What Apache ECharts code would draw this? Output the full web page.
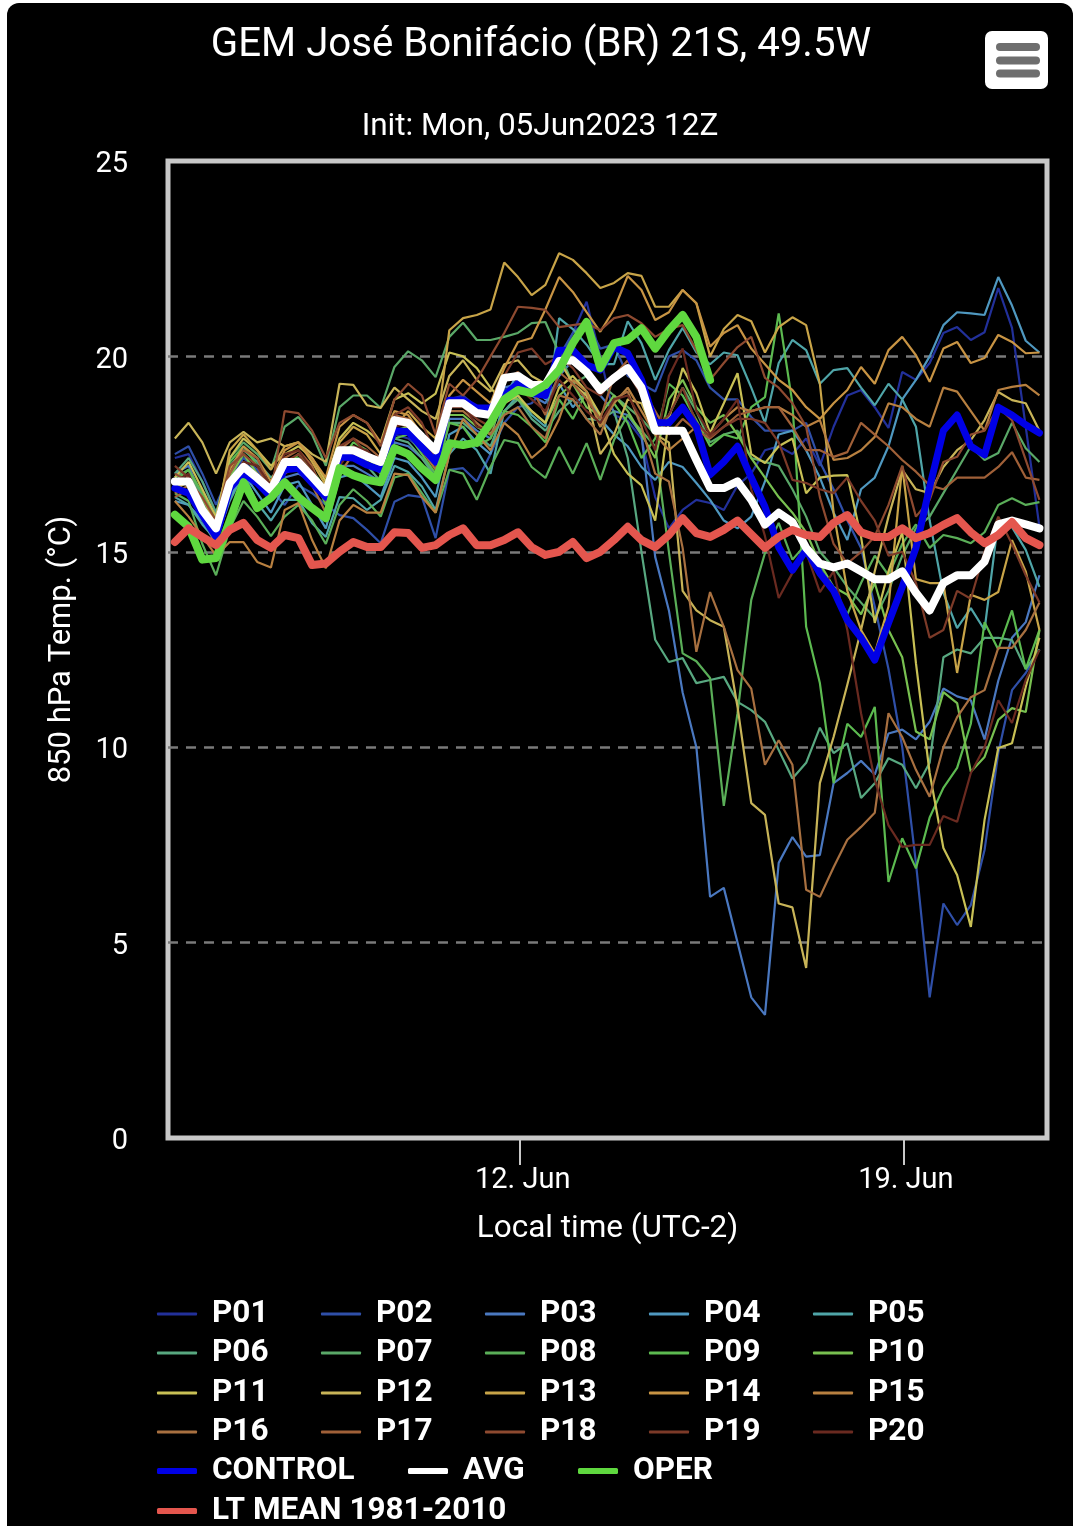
<!DOCTYPE html>
<html>
<head>
<meta charset="utf-8">
<title>GEM José Bonifácio</title>
<script src="https://cdn.jsdelivr.net/npm/echarts@6/dist/echarts.min.js"></script>
<style>
  html, body { margin: 0; padding: 0; background: #fff; }
  #panel { position: absolute; left: 7px; top: 3px; width: 1066px; height: 1523px; background: #000; border-radius: 12px 12px 0 0; }
  #chart { position: absolute; left: 0; top: 0; width: 1079px; height: 1526px; }
</style>
</head>
<body>
<div id="panel"></div>
<div id="chart"></div>
<script>
// forecast hours run +6h, +12h ... from init, one value per step
const stepHours = 6
const xTickHours = [157, 324.5]
const xTickLabels = ['12. Jun', '19. Jun']

const P01 = [17.4,17.5,16.8,16.0,16.9,17.4,17.1,16.6,17.2,17.4,17.0,16.5,17.4,17.5,17.3,17.0,
  18.0,17.9,17.6,17.2,18.9,19.0,18.7,18.4,19.1,19.4,19.2,19.0,19.9,20.6,21.4,20.0,
  18.5,18.35,17.9,16.4,15.6,16.07,16.33,16.25,16.07,16.7,17.0,17.6,17.7,17.5,17.9,17.2,
  18.2,19.0,19.14,18.7,18.17,19.6,19.4,19.83,20.6,20.75,20.42,20.62,21.75,20.73,18.2,15.63]
const P02 = [17.5,17.7,17.0,16.2,17.0,17.4,17.1,16.6,16.2,16.7,16.5,16.2,15.94,15.86,15.56,15.22,
  16.28,16.45,16.4,15.35,17.1,17.14,16.8,17.5,18.3,18.7,18.8,19.2,20.0,20.6,20.9,20.2,
  20.3,19.5,19.3,19.1,20.0,20.16,19.9,19.2,18.9,18.9,18.45,18.1,18.1,18.1,18.3,17.3,
  16.6,15.8,15.1,13.6,12.0,10.0,7.04,3.6,6.0,5.45,5.96,7.37,9.85,11.46,11.9,12.5]
const P03 = [17.0,17.2,16.4,15.9,16.8,17.3,17.0,16.4,16.9,17.0,16.8,16.4,17.2,17.2,17.0,16.8,
  17.8,17.7,17.4,17.0,18.4,18.4,18.1,17.9,19.2,19.3,19.0,18.8,19.5,19.9,19.6,19.0,
  18.6,18.5,18.0,14.87,13.5,11.4,10.0,6.17,6.4,5.0,3.6,3.15,7.04,7.7,7.2,7.24,
  9.08,9.34,9.65,9.3,10.35,10.45,10.2,10.65,11.5,11.3,11.2,10.2,11.7,12.8,13.2,14.4]
const P04 = [16.3,16.2,15.8,15.2,16.4,17.0,16.5,16.0,16.7,16.8,16.2,15.6,16.9,17.0,16.7,16.4,
  17.4,17.3,16.9,16.4,18.0,18.2,17.8,17.5,18.9,19.6,19.3,18.9,19.3,18.7,19.1,18.4,
  18.0,17.7,17.17,16.84,17.3,17.17,16.76,16.33,15.8,15.6,15.9,16.8,18.0,18.1,17.6,16.9,
  16.0,15.3,16.6,16.9,17.7,18.9,19.4,20.0,20.8,21.13,21.1,21.06,22.03,21.3,20.4,20.1]
const P05 = [16.4,16.2,15.7,15.3,16.3,17.0,16.25,15.8,16.33,16.33,15.73,15.38,16.4,16.37,16.07,16.33,
  17.2,17.04,16.67,16.07,17.5,17.9,17.6,17.0,18.6,19.0,18.5,18.2,20.98,20.7,20.3,19.8,
  19.8,20.9,20.34,19.4,20.16,20.73,20.1,19.8,20.1,20.03,19.2,18.3,19.83,20.42,20.16,19.3,
  19.65,19.7,19.2,18.75,19.3,18.9,18.2,15.8,13.95,13.05,13.56,13.0,15.8,15.63,15.05,14.1]
const P06 = [17.0,17.4,16.8,16.0,17.2,17.6,17.3,16.9,17.2,17.3,17.0,16.6,17.5,17.6,17.2,16.8,
  17.9,17.8,17.4,16.9,18.3,18.3,18.0,17.7,18.6,18.9,18.4,18.1,18.6,18.9,18.4,18.37,
  18.6,17.4,15.0,12.75,12.18,12.28,11.64,11.72,11.8,11.16,10.95,10.65,9.93,9.2,9.6,10.5,
  9.85,10.1,8.7,9.08,9.72,9.55,8.95,9.6,12.3,12.5,12.4,12.8,12.8,12.74,12.0,12.5]
const P07 = [16.9,17.1,16.3,15.7,17.4,17.8,17.5,17.1,18.2,18.45,18.0,17.2,18.7,19.0,19.0,18.68,
  19.73,20.13,19.9,19.47,20.5,20.86,20.42,20.42,20.5,20.6,20.85,20.88,20.08,19.3,19.5,19.3,
  19.0,18.7,18.4,18.0,18.5,19.2,18.6,17.8,18.0,18.1,17.4,17.3,17.2,16.6,15.9,15.0,
  14.6,14.1,13.7,13.3,14.0,14.9,15.6,15.9,16.5,17.1,17.7,17.35,17.53,18.3,17.65,17.3]
const P08 = [16.5,16.3,15.2,14.4,15.6,16.3,15.9,15.4,15.9,16.2,15.8,15.2,16.2,16.6,16.3,15.9,
  16.9,17.0,16.5,16.0,17.1,17.0,16.33,17.17,17.86,17.78,17.17,16.89,17.68,17.0,17.78,16.84,
  17.86,18.5,18.1,17.7,15.0,12.4,12.2,11.77,8.5,10.87,13.77,14.97,15.74,14.8,15.2,14.6,
  14.0,13.4,14.2,14.9,14.4,15.2,15.7,15.1,15.43,15.35,15.22,15.5,16.2,16.37,16.2,16.27]
const P09 = [16.8,17.1,16.5,15.8,17.3,17.7,17.2,16.7,17.3,17.4,17.0,16.2,17.3,17.8,17.6,17.0,
  17.9,18.0,17.5,17.0,18.3,18.2,17.7,17.9,18.6,18.5,18.2,17.8,18.9,18.4,19.1,18.2,
  18.8,18.3,17.4,17.9,19.3,19.0,18.37,17.7,18.0,17.9,18.7,18.96,21.1,18.8,13.08,11.64,
  9.08,10.6,10.26,11.03,6.55,7.67,6.9,8.2,8.96,9.47,10.6,13.2,12.5,13.5,12.0,13.0]
const P10 = [16.6,16.9,16.1,15.4,16.9,17.5,17.0,16.5,17.1,17.5,17.1,16.6,17.6,17.7,17.4,17.1,
  18.1,18.2,17.8,17.3,18.5,18.5,18.2,18.0,19.0,18.9,18.6,18.3,19.0,19.3,18.7,18.5,
  19.0,18.6,18.0,17.4,18.9,19.4,18.7,18.3,18.5,18.0,17.4,16.9,16.4,16.0,15.5,14.7,
  14.1,13.9,13.4,14.2,13.0,12.3,10.4,10.2,11.41,11.13,9.37,9.75,10.7,11.0,10.9,13.0]
const P11 = [16.9,17.3,16.6,15.9,17.4,17.9,17.6,17.2,17.5,17.7,17.4,16.8,17.9,18.3,18.1,17.8,
  18.9,19.06,18.8,19.05,20.1,20.0,19.7,19.2,18.8,19.0,18.6,18.3,19.2,19.5,19.1,18.5,
  17.5,17.0,16.7,15.8,18.4,19.7,19.06,18.04,18.8,19.57,17.5,17.27,17.7,17.9,16.5,16.9,
  16.95,16.96,15.38,13.18,14.5,15.5,12.15,9.34,7.42,6.73,5.4,8.14,9.98,10.1,11.54,12.8]
const P12 = [17.9,18.3,17.8,17.0,17.8,18.07,17.8,17.9,17.7,17.8,17.5,17.3,19.3,19.27,18.75,18.68,
  19.2,18.9,18.6,18.4,19.5,19.9,19.4,19.1,19.8,19.9,19.5,19.3,19.9,19.3,19.0,17.5,
  18.0,18.9,18.8,18.0,17.8,14.0,13.5,13.25,13.08,11.03,8.57,8.27,6.0,5.9,4.35,9.08,
  10.26,11.6,13.0,14.5,15.9,17.1,16.6,16.5,17.17,17.6,17.86,18.37,19.09,18.88,18.8,18.1]
const P13 = [16.6,16.8,16.4,15.7,17.6,18.0,17.6,17.1,17.7,17.8,17.3,16.7,17.8,18.2,18.0,17.5,
  18.2,18.6,18.2,17.9,20.67,20.98,21.06,21.2,22.4,22.03,21.57,21.83,22.64,22.47,22.13,21.75,
  21.88,22.13,22.06,21.27,21.27,21.7,21.36,20.0,20.7,21.06,20.9,20.1,20.75,21.0,20.8,19.3,
  16.0,14.0,13.0,12.4,13.6,17.2,14.3,14.2,14.2,11.9,13.9,13.77,13.97,15.3,14.5,13.0]
const P14 = [16.7,16.9,16.2,15.6,17.1,17.7,17.4,16.8,17.6,17.8,17.4,16.9,18.2,18.5,18.3,17.8,
  18.6,18.5,18.0,17.6,19.0,19.4,19.1,18.8,19.7,20.37,20.47,21.2,22.03,21.65,21.13,20.63,
  21.2,22.06,21.7,20.93,21.13,21.7,21.36,20.25,20.6,20.8,20.2,19.8,19.4,19.14,18.7,18.4,
  18.8,19.14,19.73,19.3,20.16,20.5,20.03,19.35,20.2,20.37,19.83,19.96,20.55,20.37,20.08,20.1]
const P15 = [16.3,15.9,15.4,14.9,15.25,15.25,14.74,14.6,16.07,16.25,15.3,14.58,15.8,16.2,16.0,16.0,
  17.0,16.96,16.4,16.0,17.5,18.4,18.0,17.6,18.3,18.0,17.4,17.7,18.4,19.4,19.1,18.2,
  18.8,19.2,18.6,18.0,17.6,17.9,18.2,18.0,18.4,18.7,18.6,18.7,18.7,18.5,18.2,18.37,
  17.35,17.4,17.6,17.94,18.8,18.7,18.4,18.2,19.2,19.1,18.6,18.1,19.14,19.22,19.27,19.0]
const P16 = [16.5,16.7,15.9,15.2,16.7,17.3,16.9,16.3,17.0,17.2,16.7,16.0,17.0,17.5,17.4,17.2,
  18.3,18.2,17.6,17.1,18.6,18.6,18.3,18.0,18.5,18.7,18.2,17.9,19.0,18.9,18.4,18.0,
  18.9,19.1,18.2,17.0,16.8,15.1,12.44,13.97,13.08,11.97,11.5,9.55,10.18,9.55,6.35,6.17,
  6.93,7.63,7.96,8.32,10.87,10.26,9.42,8.73,10.0,10.77,11.28,11.46,12.54,12.54,13.0,13.7]
const P17 = [16.4,16.6,16.0,15.5,17.0,17.6,17.4,16.6,17.4,17.6,17.2,16.3,17.6,17.9,17.7,17.4,
  18.5,18.4,17.9,17.4,18.9,18.8,18.5,18.6,19.4,19.6,19.2,18.5,19.6,19.3,18.9,18.4,
  19.5,19.9,19.2,18.6,18.0,18.4,18.1,17.9,18.2,18.5,18.6,18.7,18.7,18.2,17.6,17.6,
  17.43,17.55,18.3,18.0,17.7,17.35,17.05,16.7,16.6,16.9,16.9,16.9,17.17,17.55,16.9,16.84]
const P18 = [17.0,16.8,16.4,15.8,17.2,17.5,17.2,16.5,18.6,18.55,18.1,17.4,18.3,18.5,18.3,17.7,
  18.9,19.3,19.0,18.0,19.3,19.0,19.4,20.0,20.6,21.27,21.24,21.19,20.75,20.8,20.85,20.67,
  20.98,21.06,20.85,20.5,20.7,20.8,20.16,19.4,19.83,20.24,20.5,19.45,19.2,18.8,18.2,16.4,
  15.2,14.7,15.0,15.4,16.2,17.2,15.9,16.33,17.3,17.43,18.0,18.1,18.7,18.37,17.35,16.33]
const P19 = [17.2,16.9,16.2,15.5,16.8,17.2,17.0,16.5,17.3,17.5,17.0,16.4,17.7,17.9,17.5,17.4,
  18.5,18.7,18.3,17.5,18.7,18.7,18.4,18.2,19.5,20.1,20.2,19.8,20.0,19.7,19.2,19.0,
  19.4,19.6,19.0,18.2,18.5,19.2,18.3,17.94,18.2,18.4,18.4,18.3,17.8,16.84,16.76,16.6,
  16.5,16.9,16.3,15.8,14.9,15.0,14.2,12.8,13.0,14.0,13.8,15.0,15.9,15.2,14.4,13.7]
const P20 = [16.8,17.0,16.1,15.3,16.6,17.3,17.2,16.7,17.5,17.6,17.1,16.5,17.2,17.7,17.6,17.2,
  18.2,18.3,17.7,17.3,18.7,18.8,18.2,18.1,19.0,19.2,18.9,18.6,19.4,19.0,18.6,18.3,
  18.9,19.0,18.4,17.6,19.5,20.2,18.6,18.0,18.4,18.9,16.6,15.4,13.82,14.46,15.0,13.97,
  14.5,13.0,10.87,9.16,8.0,7.45,7.5,7.5,8.24,8.09,9.34,10.0,11.2,10.62,11.72,12.49]
const CONTROL = [16.63,16.5,15.94,15.38,16.63,17.0,16.76,16.4,17.1,17.14,16.76,16.4,17.43,17.4,17.22,17.1,
  18.1,18.07,17.68,17.3,18.88,18.88,18.68,18.68,19.0,19.3,19.06,19.0,20.16,20.16,19.78,19.65,
  20.24,20.08,19.4,18.3,18.3,18.7,18.2,16.97,17.3,17.7,16.9,16.15,15.12,14.53,15.05,14.45,
  14.0,13.25,12.8,12.23,13.18,14.1,15.1,16.66,18.1,18.5,17.7,17.48,18.7,18.5,18.25,18.04]
const AVG = [16.8,16.8,16.07,15.6,16.76,17.17,16.89,16.58,17.3,17.3,16.92,16.53,17.6,17.6,17.44,17.3,
  18.37,18.3,17.94,17.6,18.8,18.8,18.55,18.5,19.45,19.5,19.27,19.27,19.88,19.9,19.6,19.14,
  19.45,19.7,19.2,18.1,18.1,18.1,17.35,16.63,16.63,16.8,16.33,15.7,16.0,15.76,15.1,14.7,
  14.6,14.7,14.5,14.3,14.3,14.5,13.95,13.5,14.2,14.4,14.4,14.75,15.7,15.8,15.7,15.6]
const OPER = [15.95,15.64,14.8,14.84,15.8,16.78,16.12,16.38,16.78,16.4,16.12,15.86,17.14,16.96,16.84,16.78,
  17.65,17.5,17.14,16.84,17.78,17.73,17.8,18.3,18.9,19.14,19.06,19.27,19.65,20.34,20.88,19.7,
  20.34,20.42,20.72,20.2,20.67,21.06,20.5,19.4]
const LT_MEAN = [15.25,15.6,15.38,15.17,15.56,15.74,15.3,15.1,15.43,15.35,14.66,14.7,15.0,15.25,15.12,15.12,
  15.5,15.48,15.1,15.17,15.43,15.6,15.17,15.17,15.3,15.5,15.12,14.92,15.0,15.25,14.84,15.0,
  15.3,15.64,15.3,15.12,15.43,15.86,15.48,15.38,15.56,15.8,15.45,15.1,15.38,15.56,15.43,15.38,
  15.74,15.94,15.5,15.38,15.38,15.6,15.35,15.48,15.69,15.86,15.5,15.22,15.43,15.76,15.35,15.17]

const members = [P01, P02, P03, P04, P05, P06, P07, P08, P09, P10, P11, P12, P13, P14, P15, P16, P17, P18, P19, P20]
const memberNames = ['P01','P02','P03','P04','P05','P06','P07','P08','P09','P10','P11','P12','P13','P14','P15','P16','P17','P18','P19','P20']
const memberColors = ['#22309a','#2f4fa8','#4a78c0','#4f98c0','#4fa5a8','#58a880','#5aa868','#5aae58','#5cba50','#78c050',
  '#c8c055','#c8b458','#c8a448','#c89444','#b88040','#a87040','#a06038','#8e4a30','#7c3a28','#6a2a20']

const toPoints = (values) => values.map((v, i) => [(i + 1) * stepHours, v])
const textStyle = { color: '#fff', fontFamily: 'Roboto' }

const series = members.map((values, i) => ({
  name: memberNames[i],
  type: 'line',
  color: memberColors[i],
  data: toPoints(values),
  showSymbol: false,
  silent: true,
  lineStyle: { width: 2.2, color: memberColors[i] },
  z: 2
}))
const thick = (name, values, color, width, z) => ({
  name, type: 'line', color, data: toPoints(values), showSymbol: false, silent: true,
  lineStyle: { width, color, cap: 'round', join: 'round' }, z
})
series.push(thick('CONTROL', CONTROL, '#0000e6', 7, 3))
series.push(thick('AVG', AVG, '#ffffff', 8, 4))
series.push(thick('OPER', OPER, '#5fd83f', 8, 5))
series.push(thick('LT MEAN 1981-2010', LT_MEAN, '#e4564e', 8, 6))

// one legend per entry so the columns line up with the reference
const legendItem = (name, left, top, itemHeight) => ({
  data: [name], left, top, orient: 'horizontal', padding: 0, selectedMode: false,
  icon: 'roundRect', itemWidth: 40, itemHeight, itemGap: 0,
  textStyle: { color: '#fff', fontFamily: 'Roboto', fontWeight: 'bold', fontSize: 31.5, padding: [0, 0, 0, 10], lineHeight: 36 }
})
const rowTops = [1296, 1335, 1375, 1414]
const legends = memberNames.map((name, i) =>
  legendItem(name, 157 + (i % 5) * 164, rowTops[Math.floor(i / 5)], 3))
legends.push(legendItem('CONTROL', 157, 1453, 6))
legends.push(legendItem('AVG', 408, 1453, 6))
legends.push(legendItem('OPER', 578, 1453, 6))
legends.push(legendItem('LT MEAN 1981-2010', 157, 1493, 6))

const chart = echarts.init(document.getElementById('chart'), null, { renderer: 'canvas' })
chart.setOption({
  backgroundColor: 'transparent',
  animation: false,
  title: [
    { text: 'GEM José Bonifácio (BR) 21S, 49.5W', left: 536, top: 21, textAlign: 'center',
      textStyle: { ...textStyle, fontWeight: 'normal', fontSize: 40.2 } },
    { text: 'Init: Mon, 05Jun2023 12Z', left: 535, top: 106, textAlign: 'center',
      textStyle: { ...textStyle, fontWeight: 'normal', fontSize: 31.5 } }
  ],
  grid: { left: 168, top: 161, width: 879, height: 977, show: true, borderColor: '#c8c8c8', borderWidth: 5, backgroundColor: 'transparent' },
  xAxis: {
    type: 'value', min: 3, max: 387.3,
    name: 'Local time (UTC-2)', nameLocation: 'middle', nameGap: 75,
    nameTextStyle: { ...textStyle, fontSize: 31.5 },
    axisLine: { show: false },
    axisTick: { show: true, length: 27, customValues: xTickHours, lineStyle: { color: '#c8c8c8', width: 2 } },
    axisLabel: {
      show: true, customValues: xTickHours, margin: 28, ...textStyle, fontSize: 29, padding: [0, 0, 0, 5],
      formatter: (v) => xTickLabels[xTickHours.indexOf(v)]
    },
    splitLine: { show: true, showMinLine: false, showMaxLine: false, lineStyle: { color: '#7a7a7a', width: 2.5, type: [10, 8] } }
  },
  yAxis: {
    type: 'value', min: 0, max: 25, interval: 5,
    name: '850 hPa Temp. (°C)', nameLocation: 'middle', nameGap: 90,
    nameTextStyle: { ...textStyle, fontSize: 31 },
    axisLine: { show: false }, axisTick: { show: false },
    axisLabel: { margin: 40, ...textStyle, fontSize: 29, verticalAlign: 'top', lineHeight: 8 },
    splitLine: { show: true, showMinLine: false, showMaxLine: false, lineStyle: { color: '#7a7a7a', width: 2.5, type: [10, 8] } }
  },
  legend: legends,
  series,
  graphic: [
    { type: 'rect', shape: { x: 985, y: 31, width: 63, height: 58, r: 7 }, style: { fill: '#fff' } },
    { type: 'rect', shape: { x: 996, y: 43, width: 44, height: 8, r: 4 }, style: { fill: '#6e6e6e' } },
    { type: 'rect', shape: { x: 996, y: 56.5, width: 44, height: 8, r: 4 }, style: { fill: '#6e6e6e' } },
    { type: 'rect', shape: { x: 996, y: 69.5, width: 44, height: 8, r: 4 }, style: { fill: '#6e6e6e' } }
  ]
})
</script>
</body>
</html>
